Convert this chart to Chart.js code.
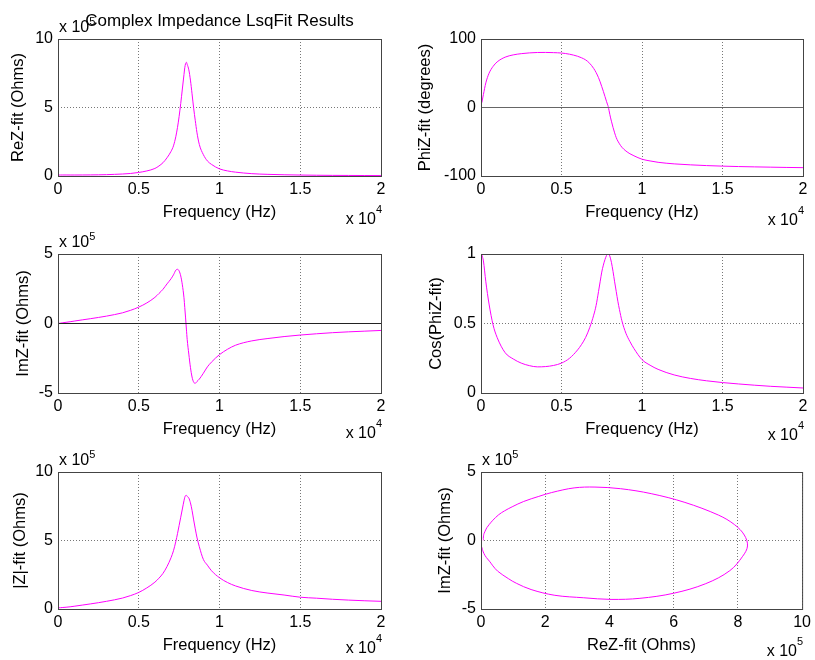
<!DOCTYPE html>
<html>
<head>
<meta charset="utf-8">
<title>Complex Impedance LsqFit Results</title>
<script src="https://cdn.jsdelivr.net/npm/chart.js@4.4.1/dist/chart.umd.min.js"></script>
<style>
    body { margin: 0; background: #fff; }
    #fig { position: relative; width: 815px; height: 660px; background: #fff; }
    canvas { position: absolute; }
</style>
</head>
<body>
<div id="fig">
    <canvas id="reChart" width="408" height="230" style="left:0;top:0"></canvas>
    <canvas id="phiChart" width="407" height="230" style="left:408px;top:0"></canvas>
    <canvas id="imChart" width="408" height="215" style="left:0;top:230px"></canvas>
    <canvas id="cosChart" width="407" height="215" style="left:408px;top:230px"></canvas>
    <canvas id="absChart" width="408" height="215" style="left:0;top:445px"></canvas>
    <canvas id="nyqChart" width="407" height="215" style="left:408px;top:445px"></canvas>
</div>
<script>
// frequency points (Hz)
var freq = [50, 150, 300, 500, 750, 1000, 1500, 2000, 2500, 3000,
    3500, 4000, 4500, 5000, 5500, 6000, 6250, 6500, 6750, 7000,
    7150, 7300, 7400, 7500, 7600, 7700, 7800, 7850, 7900, 7950,
    8000, 8100, 8200, 8300, 8400, 8500, 8600, 8750, 9000, 9250,
    9500, 10000, 10500, 11000, 12000, 13000, 14000, 15000, 16000, 17000,
    18000, 19000, 20000];

// real part of Z (x 1e5 Ohms)
var reZ = [0.070, 0.072, 0.074, 0.075, 0.072, 0.072, 0.075, 0.079, 0.086, 0.098,
    0.12, 0.145, 0.185, 0.26, 0.37, 0.55, 0.73, 0.97, 1.33, 1.8,
    2.2, 2.9, 3.55, 4.35, 5.3, 6.35, 7.4, 7.9, 8.2, 8.3,
    8.15, 7.75, 7.0, 6.0, 4.95, 4.05, 3.2, 2.3, 1.56, 1.1,
    0.85, 0.52, 0.37, 0.28, 0.17, 0.12, 0.09, 0.07, 0.055, 0.045,
    0.04, 0.035, 0.03];

// imaginary part of Z (x 1e5 Ohms)
var imZ = [0.0085, 0.026, 0.052, 0.086, 0.128, 0.172, 0.26, 0.345, 0.435, 0.53,
    0.64, 0.77, 0.95, 1.18, 1.48, 1.88, 2.16, 2.46, 2.85, 3.22,
    3.5, 3.84, 3.9, 3.78, 3.42, 2.78, 1.85, 1.15, 0.4, -0.4,
    -1.15, -2.2, -3.15, -3.85, -4.22, -4.3, -4.18, -4.0, -3.58, -3.12,
    -2.78, -2.24, -1.85, -1.56, -1.25, -1.08, -0.94, -0.83, -0.74, -0.66,
    -0.6, -0.55, -0.5];

// |Z| (x 1e5 Ohms)
var absZ = [0.09, 0.095, 0.11, 0.13, 0.16, 0.2, 0.285, 0.37, 0.46, 0.56,
    0.67, 0.8, 0.98, 1.21, 1.54, 1.96, 2.25, 2.6, 3.1, 3.75,
    4.25, 4.95, 5.5, 6.1, 6.7, 7.3, 7.9, 8.15, 8.28, 8.3,
    8.22, 8.1, 7.75, 7.2, 6.5, 5.85, 5.25, 4.55, 3.62, 3.2,
    2.8, 2.28, 1.93, 1.68, 1.35, 1.16, 1.02, 0.86, 0.79, 0.71,
    0.65, 0.6, 0.56];

// phase of Z (degrees)
var phiZ = [7, 19, 36, 50, 60, 66.5, 73.5, 76.8, 78.6, 79.7,
    80.3, 80.4, 80.1, 79.5, 77.8, 74.8, 72.5, 69.5, 64.5, 57,
    51, 43.5, 37.5, 30.5, 23.5, 16, 8.5, 5, 1.5, -4,
    -10, -20, -29, -37, -44, -49, -53, -58, -63.5, -67.5,
    -70.5, -75.5, -78, -80, -82.3, -83.7, -84.8, -85.6, -86.2, -86.7,
    -87.1, -87.5, -87.8];

// cos(phase)
var cosPhi = [0.995, 0.95, 0.8, 0.64, 0.49, 0.4, 0.29, 0.245, 0.215, 0.197,
    0.188, 0.19, 0.198, 0.215, 0.25, 0.31, 0.35, 0.4, 0.47, 0.56,
    0.63, 0.73, 0.8, 0.87, 0.92, 0.96, 0.99, 0.997, 1.0, 0.997,
    0.985, 0.94, 0.875, 0.8, 0.73, 0.66, 0.6, 0.52, 0.43, 0.37,
    0.32, 0.24, 0.2, 0.17, 0.13, 0.105, 0.088, 0.075, 0.065, 0.056,
    0.048, 0.042, 0.036];

// zero reference line
var zeroX = [0, 20000];
var zeroY = [0, 0];

// tick values and labels
var freqTicks = [0, 5000, 10000, 15000, 20000];
var freqLabels = ['0', '0.5', '1', '1.5', '2'];
var mag10Ticks = [0, 5, 10];
var mag10Labels = ['0', '5', '10'];
var pm5Ticks = [-5, 0, 5];
var pm5Labels = ['-5', '0', '5'];
var phiTicks = [-100, 0, 100];
var phiLabels = ['-100', '0', '100'];
var cosTicks = [0, 0.5, 1];
var cosLabels = ['0', '0.5', '1'];
var reTicks = [0, 2, 4, 6, 8, 10];
var reLabels = ['0', '2', '4', '6', '8', '10'];

var FONT = '"Liberation Sans", Arial, Helvetica, sans-serif';
Chart.defaults.font.family = FONT;
Chart.defaults.font.size = 16;
Chart.defaults.color = '#000';

function pairs(xs, ys) {
    var out = [];
    for (var i = 0; i < xs.length; i++) {
        out.push({ x: xs[i], y: ys[i] });
    }
    return out;
}

// box around the axes plus the "x 10^n" labels and the figure title
var matlabFrame = {
    id: 'matlabFrame',
    afterDraw: function(chart, args, opts) {
        var ctx = chart.ctx;
        var a = chart.chartArea;
        ctx.save();
        ctx.strokeStyle = '#444';
        ctx.lineWidth = 1;
        ctx.strokeRect(a.left + 0.5, a.top + 0.5, a.right - a.left, a.bottom - a.top);
        ctx.fillStyle = '#000';
        ctx.textBaseline = 'alphabetic';
        if (opts.topExp) {
            ctx.textAlign = 'left';
            ctx.font = '16px ' + FONT;
            ctx.fillText('x 10', a.left + 1, a.top - 7);
            var w = ctx.measureText('x 10').width;
            ctx.font = '11px ' + FONT;
            ctx.fillText(opts.topExp, a.left + 1 + w, a.top - 14);
        }
        if (opts.bottomExp) {
            var base = chart.height - opts.bottomGap;
            ctx.textAlign = 'right';
            ctx.font = '11px ' + FONT;
            var ws = ctx.measureText(opts.bottomExp).width;
            ctx.fillText(opts.bottomExp, a.right + 1, base - 11);
            ctx.font = '16px ' + FONT;
            ctx.fillText('x 10', a.right + 1 - ws, base);
        }
        if (opts.title) {
            ctx.textAlign = 'center';
            ctx.font = '17px ' + FONT;
            ctx.fillText(opts.title, (a.left + a.right) / 2, 26);
        }
        ctx.restore();
    }
};

function axis(min, max, vals, labels, title, titlePad, tickPad) {
    return {
        type: 'linear',
        min: min,
        max: max,
        afterBuildTicks: function(s) {
            s.ticks = vals.map(function(v) { return { value: v }; });
        },
        ticks: {
            autoSkip: false,
            maxRotation: 0,
            minRotation: 0,
            padding: tickPad,
            color: '#000',
            font: { size: 16 },
            callback: function(v, i) { return labels[i]; }
        },
        grid: { color: '#777', lineWidth: 1, drawTicks: false },
        border: { display: false, dash: [1, 2] },
        title: { display: true, text: title, color: '#000', font: { size: 16.5 }, padding: titlePad }
    };
}

function makeChart(id, p) {
    var datasets = [];
    if (p.zero) {
        datasets.push({
            data: pairs(zeroX, zeroY),
            borderColor: p.zero,
            borderWidth: 1,
            pointRadius: 0,
            fill: false
        });
    }
    datasets.push({
        data: p.points,
        borderColor: '#ff00ff',
        borderWidth: 1,
        pointRadius: 0,
        fill: false,
        tension: p.tension || 0,
        cubicInterpolationMode: p.tension ? 'default' : 'monotone'
    });

    var xAxis = axis(p.xMin, p.xMax, p.xTicks, p.xLabels, p.xTitle, { top: 0, bottom: 3.2 }, 4);
    xAxis.afterFit = function(s) { s.height = 50; };
    var yAxis = axis(p.yMin, p.yMax, p.yTicks, p.yLabels, p.yTitle, { top: p.yTitlePad, bottom: 0 }, 5);
    yAxis.afterFit = function(s) { s.width = p.yWidth; };

    return new Chart(document.getElementById(id).getContext('2d'), {
        type: 'line',
        data: { datasets: datasets },
        options: {
            responsive: false,
            animation: false,
            devicePixelRatio: 1,
            layout: { padding: p.pad },
            scales: { x: xAxis, y: yAxis },
            plugins: {
                legend: { display: false },
                tooltip: { enabled: false },
                matlabFrame: {
                    topExp: p.topExp,
                    bottomExp: p.bottomExp,
                    bottomGap: p.bottomGap,
                    title: p.title
                }
            }
        },
        plugins: [matlabFrame]
    });
}

makeChart('reChart', {
    points: pairs(freq, reZ),
    xMin: 0, xMax: 20000, xTicks: freqTicks, xLabels: freqLabels, xTitle: 'Frequency (Hz)',
    yMin: 0, yMax: 10, yTicks: mag10Ticks, yLabels: mag10Labels, yTitle: 'ReZ-fit (Ohms)',
    yWidth: 58, yTitlePad: 8.6,
    pad: { left: 0, top: 39, right: 27, bottom: 4 },
    topExp: '5', bottomExp: '4', bottomGap: 6,
    title: 'Complex Impedance LsqFit Results'
});

makeChart('phiChart', {
    points: pairs(freq, phiZ),
    zero: '#666',
    xMin: 0, xMax: 20000, xTicks: freqTicks, xLabels: freqLabels, xTitle: 'Frequency (Hz)',
    yMin: -100, yMax: 100, yTicks: phiTicks, yLabels: phiLabels, yTitle: 'PhiZ-fit (degrees)',
    yWidth: 73, yTitlePad: 7.8,
    pad: { left: 0, top: 39, right: 12, bottom: 4 },
    bottomExp: '4', bottomGap: 5
});

makeChart('imChart', {
    points: pairs(freq, imZ),
    zero: '#222',
    xMin: 0, xMax: 20000, xTicks: freqTicks, xLabels: freqLabels, xTitle: 'Frequency (Hz)',
    yMin: -5, yMax: 5, yTicks: pm5Ticks, yLabels: pm5Labels, yTitle: 'ImZ-fit (Ohms)',
    yWidth: 58, yTitlePad: 13.1,
    pad: { left: 0, top: 24, right: 27, bottom: 2 },
    topExp: '5', bottomExp: '4', bottomGap: 7
});

makeChart('cosChart', {
    points: pairs(freq, cosPhi),
    xMin: 0, xMax: 20000, xTicks: freqTicks, xLabels: freqLabels, xTitle: 'Frequency (Hz)',
    yMin: 0, yMax: 1, yTicks: cosTicks, yLabels: cosLabels, yTitle: 'Cos(PhiZ-fit)',
    yWidth: 73, yTitlePad: 18.1,
    pad: { left: 0, top: 24, right: 12, bottom: 2 },
    bottomExp: '4', bottomGap: 5
});

makeChart('absChart', {
    points: pairs(freq, absZ),
    xMin: 0, xMax: 20000, xTicks: freqTicks, xLabels: freqLabels, xTitle: 'Frequency (Hz)',
    yMin: 0, yMax: 10, yTicks: mag10Ticks, yLabels: mag10Labels, yTitle: '|Z|-fit (Ohms)',
    yWidth: 58, yTitlePad: 10.1,
    pad: { left: 0, top: 27, right: 27, bottom: 1 },
    topExp: '5', bottomExp: '4', bottomGap: 7
});

makeChart('nyqChart', {
    points: pairs(reZ, imZ),
    tension: 0.35,
    xMin: 0, xMax: 10, xTicks: reTicks, xLabels: reLabels, xTitle: 'ReZ-fit (Ohms)',
    yMin: -5, yMax: 5, yTicks: pm5Ticks, yLabels: pm5Labels, yTitle: 'ImZ-fit (Ohms)',
    yWidth: 73, yTitlePad: 27.1,
    pad: { left: 0, top: 27, right: 12, bottom: 1 },
    topExp: '5', bottomExp: '5', bottomGap: 4
});
</script>
</body>
</html>
